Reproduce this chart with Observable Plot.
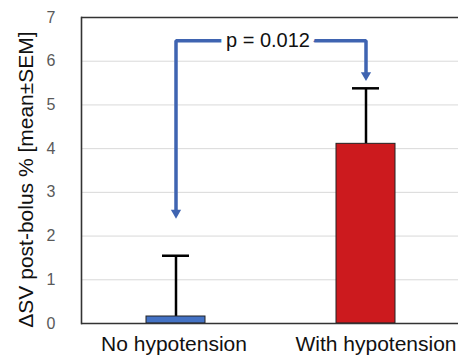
<!DOCTYPE html>
<html>
<head>
<meta charset="utf-8">
<script src="https://cdn.jsdelivr.net/npm/d3@7"></script>
<script src="https://cdn.jsdelivr.net/npm/@observablehq/plot@0.6"></script>
<style>
  html, body { margin: 0; padding: 0; background: #fff; overflow: hidden; }
  svg { font-family: "Liberation Sans", Arial, sans-serif; }
</style>
</head>
<body>
<div id="chart"></div>
<script>
const categories = ["No hypotension", "With hypotension"];
const means = [0.16, 4.11];
const sems = [1.39, 1.27];
const barColors = ["#4472c4", "#cc1a1e"];
const yTicks = [0, 1, 2, 3, 4, 5, 6, 7];
const yLabel = "ΔSV post-bolus % [mean±SEM]";
const pLabel = "p = 0.012";
const bracketLevel = 6.47;
const arrowTips = [2.4, 5.55];

const data = categories.map((c, i) => ({group: c, mean: means[i], sem: sems[i], color: barColors[i]}));
const bracket = [
  {group: categories[0], v: arrowTips[0] + 0.18},
  {group: categories[0], v: bracketLevel},
  {group: categories[1], v: bracketLevel},
  {group: categories[1], v: arrowTips[1] + 0.18}
];
const tips = categories.map((c, i) => ({group: c, v: arrowTips[i]}));
const blue = "#3f64b1";

const chart = Plot.plot({
  width: 458,
  height: 356,
  marginLeft: 81,
  marginRight: 0,
  marginTop: 17,
  marginBottom: 33,
  style: {fontFamily: "Liberation Sans, Arial, sans-serif", background: "#fff"},
  x: {type: "band", domain: categories, range: [81, 460], paddingInner: 0.69, paddingOuter: 0.342, axis: null},
  y: {domain: [0, 7], axis: null},
  marks: [
    Plot.gridY(yTicks.filter(d => d > 0 && d < 7), {stroke: "#d9d9d9", strokeOpacity: 1, strokeWidth: 1}),
    Plot.axisY(yTicks, {tickSize: 0, tickPadding: 26, fontSize: 16, fill: "#595959", color: "#595959", label: null}),
    Plot.text([yLabel], {frameAnchor: "left", textAnchor: "middle", rotate: -90, dx: -55, dy: 9, fontSize: 21, fill: "#111"}),
    Plot.axisX([categories[0]], {tickSize: 0, tickPadding: 13, fontSize: 21, fill: "#111", dx: -2, label: null}),
    Plot.axisX([categories[1]], {tickSize: 0, tickPadding: 13, fontSize: 21, fill: "#111", dx: 10, label: null}),
    Plot.ruleX(data, {x: "group", y1: "mean", y2: d => d.mean + d.sem, stroke: "#000", strokeWidth: 2.5}),
    Plot.tickY(data, {x: "group", y: d => d.mean + d.sem, stroke: "#000", strokeWidth: 2.5, insetLeft: 16, insetRight: 16}),
    Plot.barY(data, {x: "group", y: "mean", fill: "color", stroke: "#222", strokeWidth: 1}),
    Plot.ruleY([0, 7], {stroke: "#333", strokeWidth: 1.6}),
    Plot.frame({anchor: "left", stroke: "#333", strokeWidth: 1.6}),
    Plot.line(bracket, {x: "group", y: "v", stroke: blue, strokeWidth: 3.5, strokeLinejoin: "miter", curve: "linear"}),
    Plot.dot(tips, {x: "group", y: "v", symbol: "triangle", rotate: 180, r: 3.8, dy: -5.8, fill: blue, stroke: "none"}),
    Plot.text([pLabel], {x: () => categories[0], y: bracketLevel, dx: 92, fontSize: 20, fill: "#111", stroke: "#fff", strokeWidth: 12, paintOrder: "stroke"})
  ]
});
document.getElementById("chart").appendChild(chart);
</script>
</body>
</html>
